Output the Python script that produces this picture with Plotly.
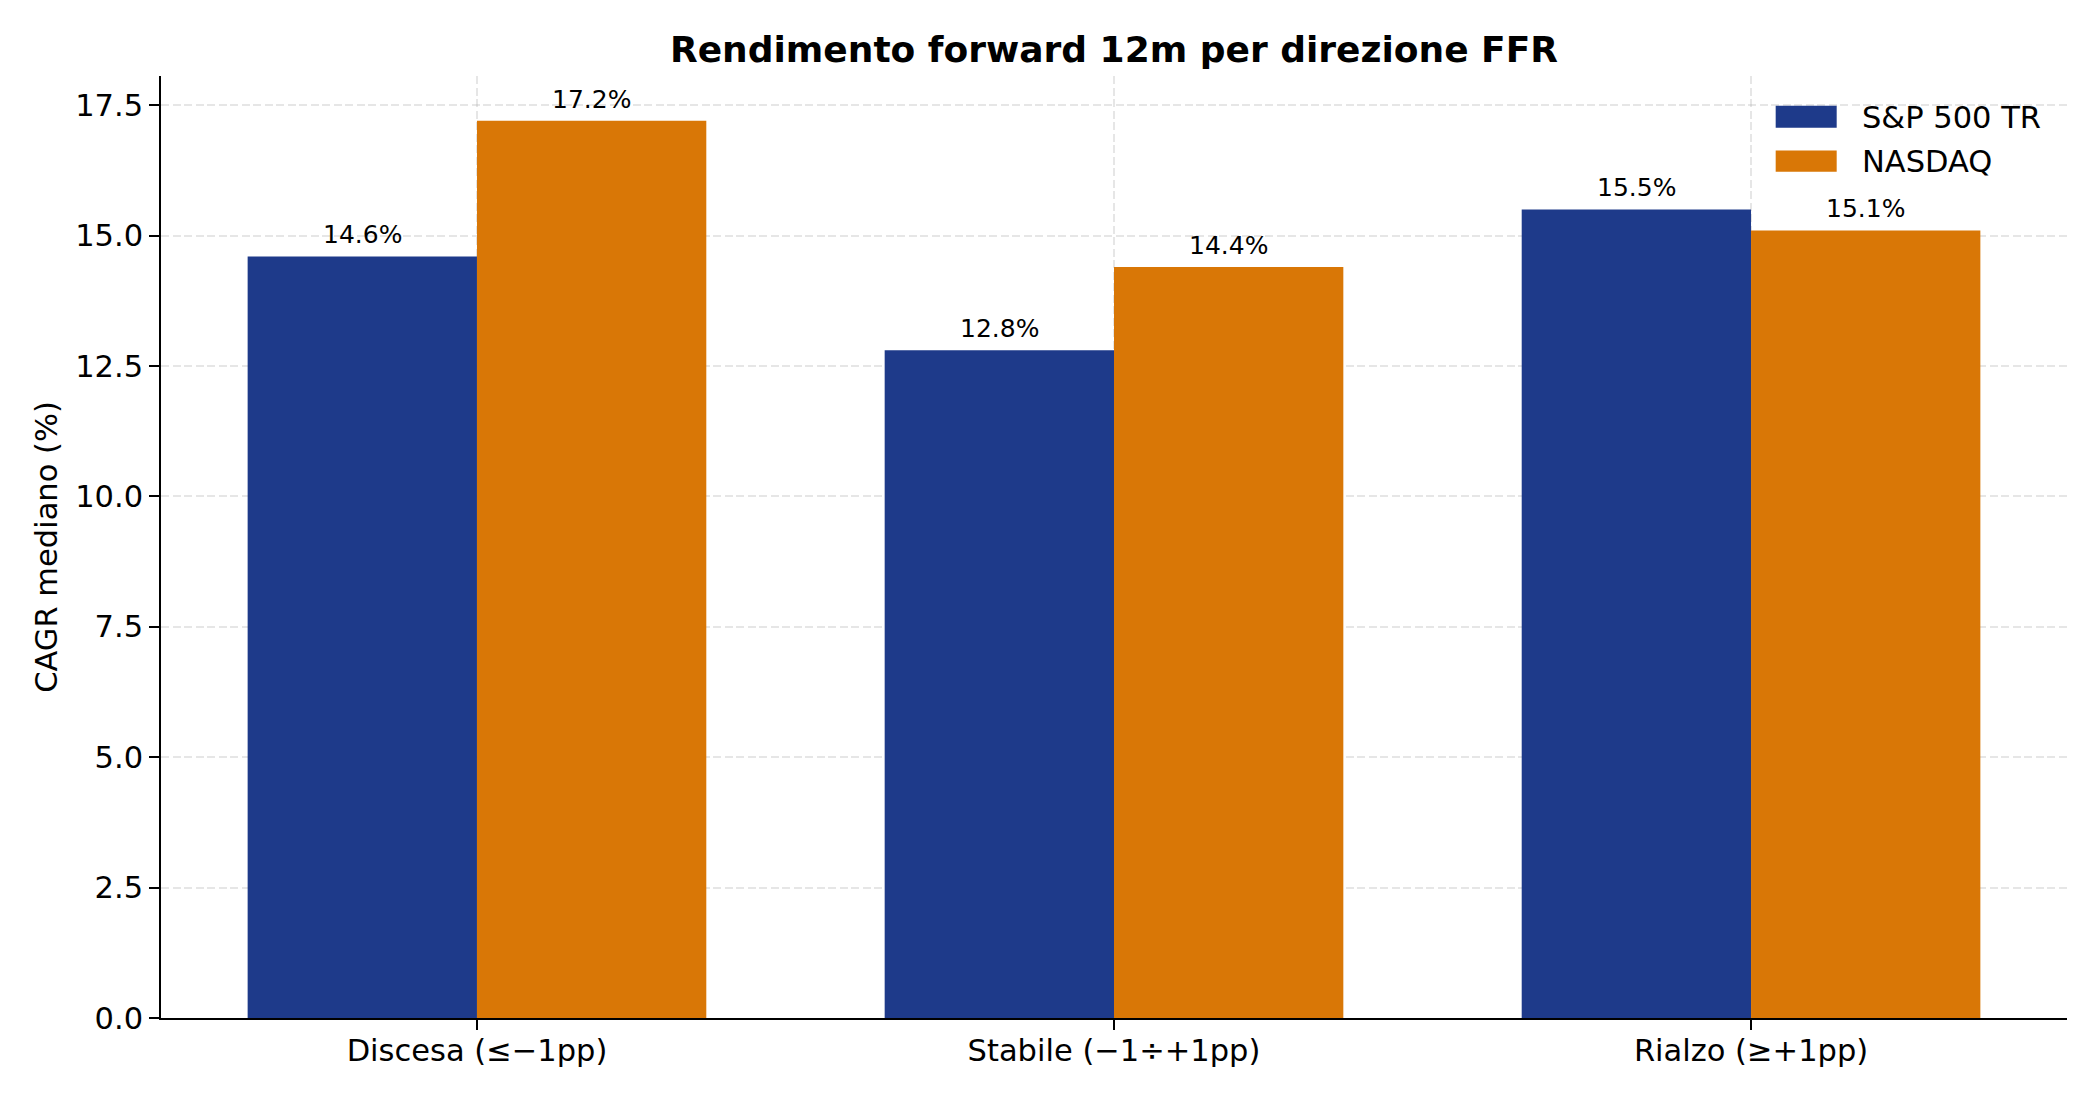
import plotly.graph_objects as go

categories = ["Discesa (≤−1pp)", "Stabile (−1÷+1pp)", "Rialzo (≥+1pp)"]
sp500_tr = [14.6, 12.8, 15.5]
nasdaq = [17.2, 14.4, 15.1]
series_names = ["S&P 500 TR", "NASDAQ"]
colors = ["#1E3A8A", "#D97706"]
y_ticks = [0.0, 2.5, 5.0, 7.5, 10.0, 12.5, 15.0, 17.5]

W, H = 2100, 1100
L, R, T, B = 160.7, 33.4, 76.3, 82.1
bar_w = 0.36
FONT = "DejaVu Sans"

idx = list(range(len(categories)))
series = [sp500_tr, nasdaq]
offsets = [-bar_w / 2, bar_w / 2]

fig = go.Figure()
annotations = []
for name, vals, col, off in zip(series_names, series, colors, offsets):
    xs = [i + off for i in idx]
    fig.add_trace(go.Bar(
        x=xs, y=vals, width=bar_w, name=name,
        marker=dict(color=col, line=dict(width=0)),
        showlegend=False,
        hovertemplate="%{y:.1f}%<extra>" + name + "</extra>",
    ))
    for x, v in zip(xs, vals):
        annotations.append(dict(
            x=x, y=v, xref="x", yref="y", text=f"{v:.1f}%",
            showarrow=False, yanchor="middle", xanchor="center", yshift=21.7,
            font=dict(family=FONT, size=25, color="black"),
        ))

# custom legend (matplotlib-like wide patches)
plot_w = W - L - R
plot_h = H - T - B
def px2paper_x(px):
    return (px - L) / plot_w
def px2paper_y(py):
    return (H - B - py) / plot_h

shapes = []
leg_rows = [(106, 128, 117.5), (150.7, 172, 162)]
for (top, bot, mid), name, col in zip(leg_rows, series_names, colors):
    shapes.append(dict(
        type="rect", xref="paper", yref="paper",
        x0=px2paper_x(1775.3), x1=px2paper_x(1836.3),
        y0=px2paper_y(bot), y1=px2paper_y(top),
        fillcolor=col, line=dict(width=0), layer="above",
    ))
    annotations.append(dict(
        x=px2paper_x(1860), y=px2paper_y(mid), xref="paper", yref="paper",
        text=name, showarrow=False, xanchor="left", yanchor="middle",
        font=dict(family=FONT, size=30.5, color="black"),
    ))

n = len(categories)
x_margin = (n - 1 + bar_w * 2) * 0.05
x_range = [-bar_w - x_margin, n - 1 + bar_w + x_margin]

grid_col = "rgba(176,176,176,0.32)"
fig.update_layout(
    width=W, height=H,
    margin=dict(l=L, r=R, t=T, b=B, pad=0),
    paper_bgcolor="white", plot_bgcolor="white",
    font=dict(family=FONT, size=30.5, color="black"),
    barmode="overlay",
    title=dict(
        text="<b>Rendimento forward 12m per direzione FFR</b>",
        x=0.5, xref="paper", y=1 - 49.5 / H, yref="container",
        xanchor="center", yanchor="middle",
        font=dict(family=FONT, size=36, color="black"),
    ),
    xaxis=dict(
        range=x_range,
        tickmode="array", tickvals=idx, ticktext=categories,
        showgrid=True, gridcolor=grid_col, gridwidth=1.6, griddash="8px,3.5px",
        showline=True, linecolor="black", linewidth=2.2,
        ticks="outside", ticklen=9.7, tickwidth=2.2, tickcolor="black",
        ticklabelstandoff=-5,
        tickfont=dict(family=FONT, size=30.5, color="black"),
        zeroline=False, layer="above traces", fixedrange=True,
    ),
    yaxis=dict(
        range=[0, max(max(s) for s in series) * 1.05],
        tickmode="array", tickvals=y_ticks, ticktext=[f"{v:.1f}" for v in y_ticks],
        showgrid=True, gridcolor=grid_col, gridwidth=1.6, griddash="8px,3.5px",
        showline=True, linecolor="black", linewidth=2.2,
        ticks="outside", ticklen=9.7, tickwidth=2.2, tickcolor="black",
        tickfont=dict(family=FONT, size=30.5, color="black"),
        title=dict(text="CAGR mediano (%)", standoff=9,
                   font=dict(family=FONT, size=30.5, color="black")),
        zeroline=False, layer="above traces", fixedrange=True,
    ),
    annotations=annotations,
    shapes=shapes,
    showlegend=False,
)

fig.write_html("out.html")
